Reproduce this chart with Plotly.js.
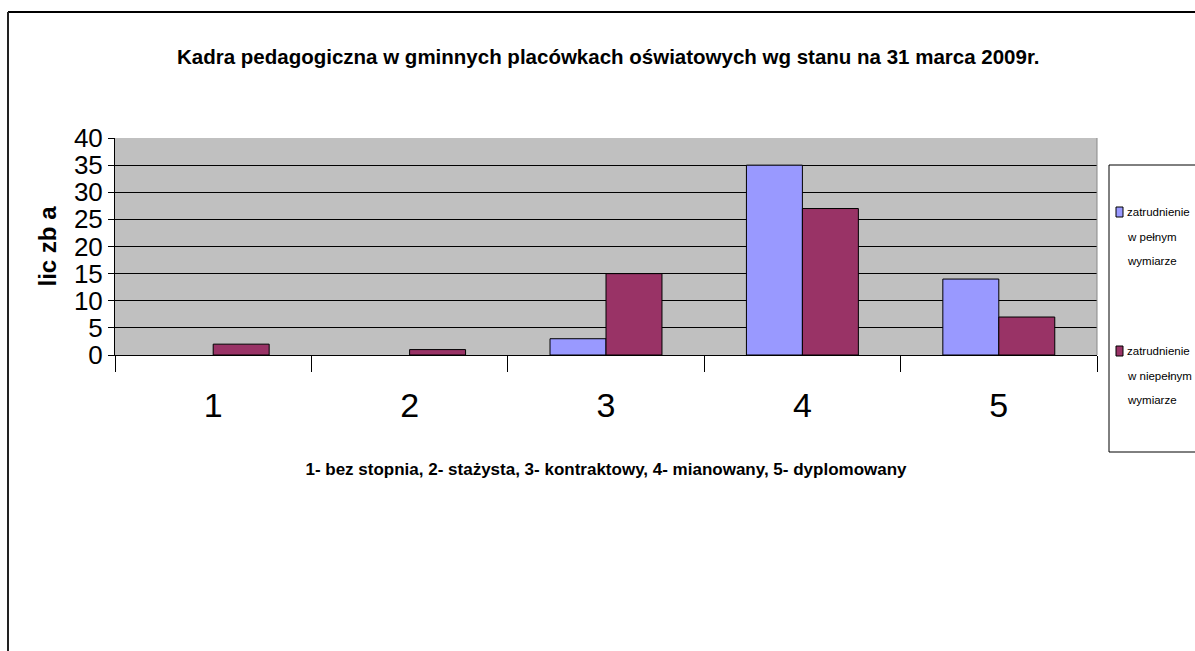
<!DOCTYPE html>
<html><head><meta charset="utf-8">
<script src="https://cdn.plot.ly/plotly-3.0.1.min.js"></script>
<style>html,body{margin:0;padding:0;background:#fff}#chart{width:1195px;height:651px}</style>
</head><body><div id="chart"></div>
<script>
const categories = ['1','2','3','4','5'];
const fullTime = [0, 0, 3, 35, 14];
const partTime = [2, 1, 15, 27, 7];
const seriesNames = ['zatrudnienie<br>w pełnym<br>wymiarze', 'zatrudnienie<br>w niepełnym<br>wymiarze'];
const seriesColors = ['#9999ff', '#993366'];
const yTicks = [0,5,10,15,20,25,30,35,40];

const F = 'Arial, "Liberation Sans", sans-serif';
const W = 1195, H = 651, L = 115, R = 98, T = 138, B = 296;
const pw = W - L - R, ph = H - T - B;
const px = x => (x - L) / pw;
const py = y => (H - B - y) / ph;

const data = [fullTime, partTime].map((vals, i) => ({
  type:'bar', x:categories, y:vals, name:seriesNames[i], showlegend:false,
  marker:{color:seriesColors[i], line:{color:'#000', width:vals.map(v => v ? 1 : 0)}}
}));

// manual legend (box, swatches, wrapped labels)
const shapes = [
  {type:'line', xref:'paper', yref:'paper', x0:px(8), x1:px(1195), y0:py(12), y1:py(12), line:{color:'#000', width:2}},
  {type:'line', xref:'paper', yref:'paper', x0:px(8), x1:px(8), y0:py(12), y1:py(651), line:{color:'#222', width:2}},
  {type:'line', xref:'paper', yref:'paper', x0:1, x1:1, y0:0, y1:1, line:{color:'#888', width:1}},
  {type:'rect', xref:'paper', yref:'paper', x0:px(1109), x1:px(1200), y0:py(452), y1:py(165), fillcolor:'#fff', line:{color:'#000', width:1}}
];
const annotations = [];
const entryTop = [212, 351];
seriesNames.forEach((nm, i) => {
  const y0 = entryTop[i];
  shapes.push({type:'rect', xref:'paper', yref:'paper', x0:px(1116), x1:px(1123), y0:py(y0+5), y1:py(y0-5),
               fillcolor:seriesColors[i], line:{color:'#000', width:1}});
  nm.split('<br>').forEach((ln, k) => {
    annotations.push({xref:'paper', yref:'paper', x:px(1125), y:py(y0 + k*24.5), xanchor:'left', yanchor:'middle',
                      text:ln, showarrow:false, font:{size:11.5, family:F, color:'#000'}});
  });
});

const layout = {
  width: W, height: H,
  margin: {l:L, r:R, t:T, b:B, autoexpand:false},
  paper_bgcolor:'#fff', plot_bgcolor:'#c0c0c0',
  barmode:'group', bargap:0.43, bargroupgap:0,
  font:{family:F, color:'#000'},
  showlegend:false,
  title:{text:'<b>Kadra pedagogiczna w gminnych placówkach oświatowych wg stanu na 31 marca 2009r.</b>',
         font:{size:20.5, family:F}, x:0.509, xanchor:'center', y:1-57/H, yanchor:'middle'},
  xaxis:{type:'category', showline:true, linecolor:'#000', linewidth:1,
         ticks:'outside', tickson:'boundaries', ticklen:16, tickcolor:'#000', tickwidth:1,
         tickfont:{size:34, family:F}, ticklabelstandoff:20, showgrid:false, zeroline:false,
         title:{text:'<b>1- bez stopnia, 2- stażysta, 3- kontraktowy, 4- mianowany, 5- dyplomowany</b>',
                font:{size:17, family:F}, standoff:40}},
  yaxis:{range:[0,40], tickvals:yTicks, ticktext:yTicks.map(String),
         showline:true, linecolor:'#000', linewidth:1, ticks:'outside', ticklen:6, tickcolor:'#000',
         tickfont:{size:26, family:F}, showgrid:true, gridcolor:'#000', gridwidth:1, zeroline:false,
         title:{text:'<b>lic zb a</b>', font:{size:24, family:F}, standoff:10}},
  shapes: shapes,
  annotations: annotations
};
Plotly.newPlot('chart', data, layout, {displayModeBar:false, staticPlot:true});
</script></body></html>
